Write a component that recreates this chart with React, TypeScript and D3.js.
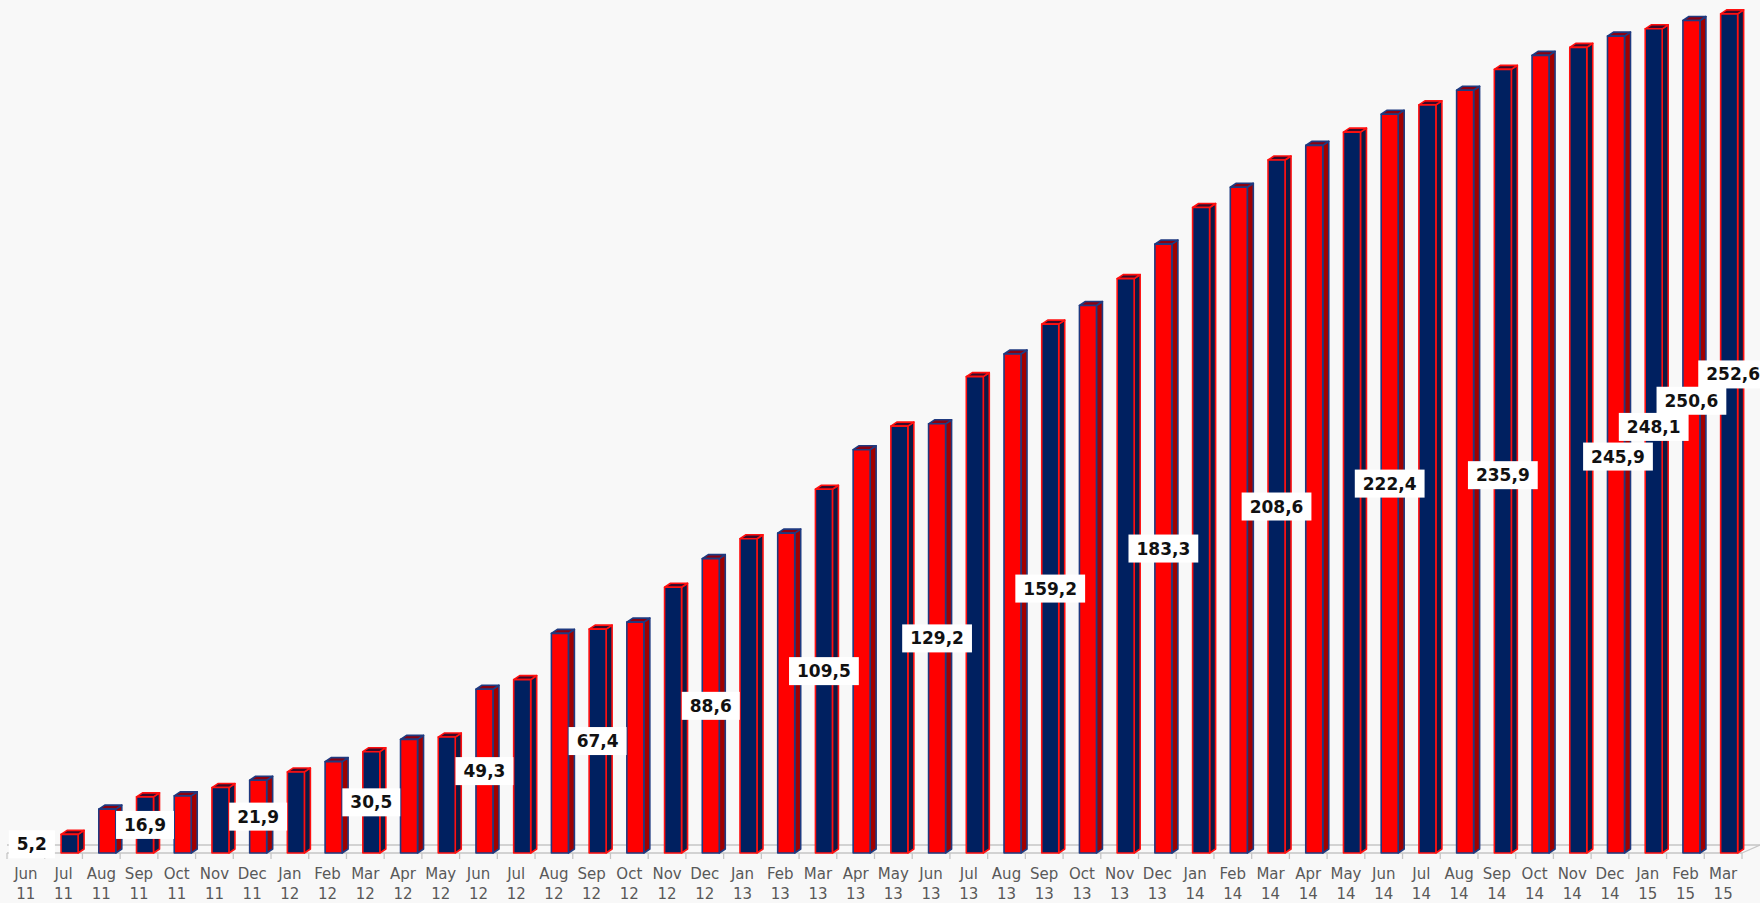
import * as d3 from "d3";
import { useEffect, useRef } from "react";

// cumulative values, Jun 2011 .. Mar 2015
const months = [
  "Jun", "Jul", "Aug", "Sep", "Oct", "Nov", "Dec",
  "Jan", "Feb", "Mar", "Apr", "May", "Jun", "Jul", "Aug", "Sep", "Oct", "Nov", "Dec",
  "Jan", "Feb", "Mar", "Apr", "May", "Jun", "Jul", "Aug", "Sep", "Oct", "Nov", "Dec",
  "Jan", "Feb", "Mar", "Apr", "May", "Jun", "Jul", "Aug", "Sep", "Oct", "Nov", "Dec",
  "Jan", "Feb", "Mar",
];
const years = [
  "11", "11", "11", "11", "11", "11", "11",
  "12", "12", "12", "12", "12", "12", "12", "12", "12", "12", "12", "12",
  "13", "13", "13", "13", "13", "13", "13", "13", "13", "13", "13", "13",
  "14", "14", "14", "14", "14", "14", "14", "14", "14", "14", "14", "14",
  "15", "15", "15",
];
const values = [
  5.2, 5.6, 13.2, 16.9, 17.2, 19.7, 21.9,
  24.4, 27.5, 30.5, 34.2, 34.9, 49.3, 52.2, 66.1, 67.4, 69.5, 80.0, 88.6,
  94.6, 96.3, 109.5, 121.4, 128.5, 129.2, 143.4, 150.2, 159.2, 164.8, 172.9, 183.3,
  194.3, 200.4, 208.6, 213.0, 217.0, 222.4, 225.2, 229.6, 235.9, 240.1, 242.5, 245.9,
  248.1, 250.6, 252.6,
];
// which bars carry a value label
const labelled = [0, 3, 6, 9, 12, 15, 18, 21, 24, 27, 30, 33, 36, 39, 42, 43, 44, 45];

// labels that were dragged away from the bar middle in the original
const labelShift: Record<number, [number, number]> = {
  39: [0, 14],
  42: [2, 12],
  43: [0, -14],
  44: [0, -36],
  45: [4, -59],
};

const W = 1760;
const H = 903;
const BASE = 853;

export default function App() {
  const ref = useRef<SVGSVGElement>(null);

  useEffect(() => {
    if (!ref.current) return;
    const svg = d3.select(ref.current);
    svg.selectAll("*").remove();

    const x = d3.scaleBand<number>().domain(d3.range(values.length)).range([7, 1742]).padding(0);
    const y = d3.scaleLinear().domain([0, 260]).range([BASE, BASE - 260 * 3.322]);
    const step = x.bandwidth();
    const bw = 17;
    const dx = 6;
    const dy = 4;

    svg.append("rect").attr("width", W).attr("height", H).attr("fill", "#f8f8f8");

    // floor
    const floor = svg.append("g").attr("fill", "none").attr("stroke", "#c6c6c6").attr("stroke-width", 1.3);
    floor.append("line").attr("x1", 7).attr("x2", 1760).attr("y1", BASE - 8).attr("y2", BASE - 8);
    floor.append("line").attr("x1", 7).attr("x2", 1742).attr("y1", BASE).attr("y2", BASE);
    floor.append("line").attr("x1", 1742).attr("x2", 1760).attr("y1", BASE).attr("y2", BASE - 8);
    floor
      .selectAll("line.tick")
      .data(d3.range(values.length + 1))
      .join("line")
      .attr("class", "tick")
      .attr("x1", (i) => 7 + i * step)
      .attr("x2", (i) => 7 + i * step)
      .attr("y1", BASE)
      .attr("y2", BASE + 6);

    const red = { front: "#ff0000", dark: "#a00000", top: "#8a0010", stroke: "#1f3a80" };
    const navy = { front: "#002060", dark: "#0c1a45", top: "#3a0a2a", stroke: "#ff1010" };

    const bars = svg.append("g");
    values.forEach((v, i) => {
      const c = i % 2 === 0 ? red : navy;
      const cx = (x(i) ?? 0) + step / 2 + 6;
      const x0 = cx - bw / 2;
      const x1 = cx + bw / 2;
      const yt = y(v);
      const g = bars.append("g").attr("stroke", c.stroke).attr("stroke-width", 1.6).attr("stroke-linejoin", "round");
      g.append("polygon")
        .attr("points", [[x1, BASE], [x1 + dx, BASE - dy], [x1 + dx, yt - dy], [x1, yt]].map((p) => p.join(",")).join(" "))
        .attr("fill", c.dark);
      g.append("polygon")
        .attr("points", [[x0, yt], [x0 + dx, yt - dy], [x1 + dx, yt - dy], [x1, yt]].map((p) => p.join(",")).join(" "))
        .attr("fill", c.top);
      g.append("rect")
        .attr("x", x0)
        .attr("y", yt)
        .attr("width", bw)
        .attr("height", BASE - yt)
        .attr("fill", c.front);
    });

    // category labels
    const cats = svg.append("g").attr("font-family", "DejaVu Sans, Verdana, sans-serif").attr("font-size", 15).attr("fill", "#595959").attr("text-anchor", "middle");
    months.forEach((m, i) => {
      const cx = (x(i) ?? 0) + step / 2;
      cats.append("text").attr("x", cx).attr("y", 879).text(m);
      cats.append("text").attr("x", cx).attr("y", 899).text(years[i]);
    });

    // value labels
    const lab = svg.append("g").attr("font-family", "DejaVu Sans, Verdana, sans-serif").attr("font-weight", "bold").attr("font-size", 17);
    labelled.forEach((i) => {
      const v = values[i];
      const [sx, sy] = labelShift[i] ?? [0, 0];
      const cx = (x(i) ?? 0) + step / 2 + 6 + sx;
      const cy = (y(v) + BASE) / 2 + sy;
      const g = lab.append("g");
      const rect = g.append("rect").attr("fill", "#ffffff");
      const t = g
        .append("text")
        .attr("x", cx)
        .attr("y", cy)
        .attr("text-anchor", "middle")
        .attr("dominant-baseline", "central")
        .attr("fill", "#111111")
        .text(v.toFixed(1).replace(".", ","));
      const w = (t.node() as SVGTextElement).getComputedTextLength();
      rect.attr("x", cx - w / 2 - 8).attr("y", cy - 14).attr("width", w + 16).attr("height", 28);
    });
  }, []);

  return (
    <svg
      ref={ref}
      width={W}
      height={H}
      style={{ position: "absolute", left: 0, top: 0, display: "block" }}
    />
  );
}
